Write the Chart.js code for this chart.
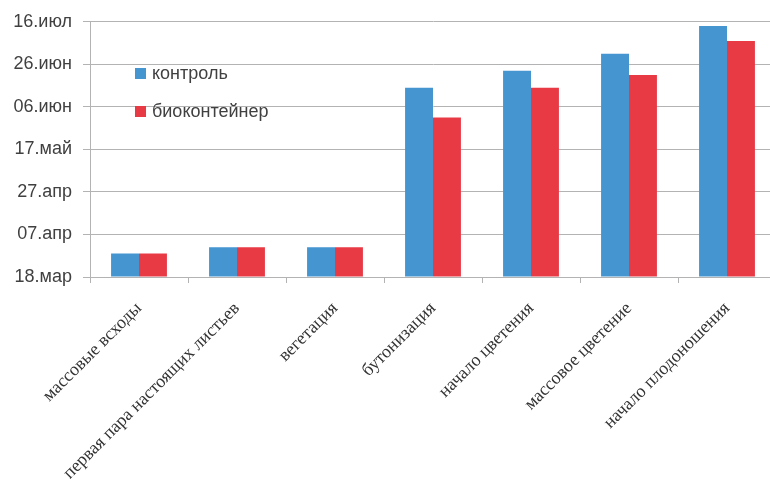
<!DOCTYPE html>
<html>
<head>
<meta charset="utf-8">
<script src="https://cdn.jsdelivr.net/npm/chart.js@4"></script>
<style>
  html, body { margin: 0; padding: 0; background: #fff; overflow: hidden; }
  #wrap { position: relative; width: 776px; height: 479px; }
  #legend { position: absolute; left: 135px; top: 54px; font-family: "Liberation Sans", Arial, sans-serif; font-size: 18px; color: #404040; }
  #legend .item { display: flex; align-items: center; height: 38px; }
  #legend .sw { width: 11px; height: 11px; margin-right: 6px; }
</style>
</head>
<body>
<div id="wrap">
  <canvas id="c" width="776" height="479"></canvas>
  <div id="legend"></div>
</div>
<script>
const categories = ["массовые всходы", "первая пара настоящих листьев", "вегетация", "бутонизация", "начало цветения", "массовое цветение", "начало плодоношения"];
const seriesNames = ["контроль", "биоконтейнер"];
const controlDates = ["2013-03-29", "2013-04-01", "2013-04-01", "2013-06-15", "2013-06-23", "2013-07-01", "2013-07-14"];
const bioDates = ["2013-03-29", "2013-04-01", "2013-04-01", "2013-06-01", "2013-06-15", "2013-06-21", "2013-07-07"];
const axisStart = "2013-03-18";
const axisEnd = "2013-07-16";
const tickStepDays = 20;
const monthNames = ["янв", "фев", "мар", "апр", "май", "июн", "июл", "авг", "сен", "окт", "ноя", "дек"];
const colors = ["#4595d1", "#e83a45"];

const DAY = 86400000;
const base = Date.parse(axisStart + "T00:00:00Z");
const toDays = s => Math.round((Date.parse(s + "T00:00:00Z") - base) / DAY);
const fmt = d => {
  const dt = new Date(base + d * DAY);
  const dd = String(dt.getUTCDate()).padStart(2, "0");
  return dd + "." + monthNames[dt.getUTCMonth()];
};

const datasets = [controlDates, bioDates].map((arr, i) => ({
  label: seriesNames[i],
  data: arr.map(toDays),
  backgroundColor: colors[i],
  borderWidth: 0,
  categoryPercentage: 0.57,
  barPercentage: 1.0
}));

const leg = document.getElementById("legend");
datasets.forEach(ds => {
  const it = document.createElement("div");
  it.className = "item";
  const sw = document.createElement("span");
  sw.className = "sw";
  sw.style.background = ds.backgroundColor;
  const tx = document.createElement("span");
  tx.textContent = ds.label;
  it.appendChild(sw); it.appendChild(tx);
  leg.appendChild(it);
});

new Chart(document.getElementById("c"), {
  type: "bar",
  data: { labels: categories, datasets },
  options: {
    responsive: false,
    animation: false,
    layout: { padding: { top: 19, left: 0, right: 0, bottom: 0 } },
    plugins: { legend: { display: false }, tooltip: { enabled: false } },
    scales: {
      x: {
        grid: { display: true, drawOnChartArea: false, drawTicks: true, tickLength: 6, color: "#b3b3b3", offset: true },
        border: { display: true, color: "#b3b3b3" },
        ticks: {
          minRotation: 45, maxRotation: 45, autoSkip: false,
          font: { family: "Liberation Serif", size: 18 },
          color: "#333333", padding: 15
        },
        afterFit: s => { s.height = 202; }
      },
      y: {
        min: 0, max: toDays(axisEnd),
        grid: { color: "#b3b3b3", tickLength: 7 },
        border: { display: true, color: "#b3b3b3" },
        ticks: {
          stepSize: tickStepDays,
          callback: v => fmt(v),
          font: { family: "Liberation Sans", size: 18 },
          color: "#404040", padding: 11
        },
        afterFit: s => { s.width = 90; }
      }
    }
  }
});
</script>
</body>
</html>
